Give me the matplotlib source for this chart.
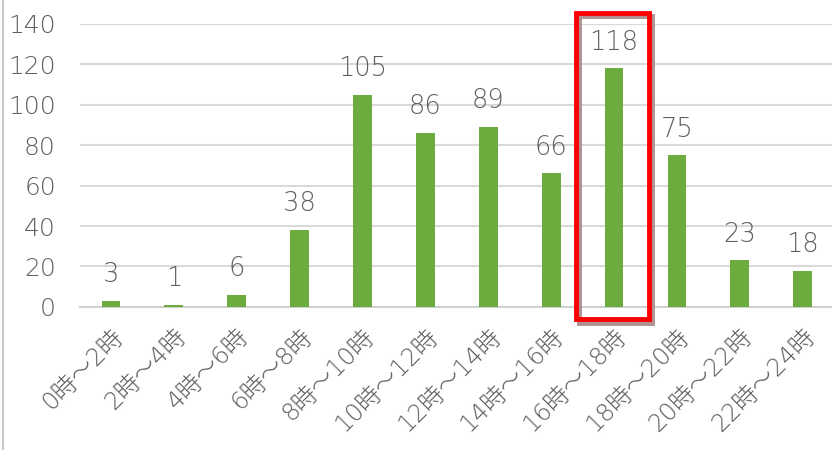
import matplotlib
matplotlib.use('Agg')
import matplotlib.pyplot as plt
import matplotlib.patches as mpatches

# wide digits from DejaVu, kanji falls through to the CJK font
plt.rcParams['font.family'] = ['DejaVu Sans', 'Noto Sans CJK JP']

categories = ['0時～2時', '2時～4時', '4時～6時', '6時～8時', '8時～10時', '10時～12時',
              '12時～14時', '14時～16時', '16時～18時', '18時～20時', '20時～22時', '22時～24時']
counts = [3, 1, 6, 38, 105, 86, 89, 66, 118, 75, 23, 18]
highlight = '16時～18時'

BAR_COLOR = '#6cab3e'
TEXT_COLOR = '#5f5f5f'

fig = plt.figure(figsize=(8.32, 4.5), dpi=100)
ax = fig.add_axes([0.0956, 0.318, 0.907, 0.629])

x = list(range(len(categories)))
ax.bar(x, counts, width=0.30, color=BAR_COLOR, zorder=3)

for xi, v in zip(x, counts):
    ax.annotate(str(v), (xi, v), xytext=(0, 13.5), textcoords='offset points',
                ha='center', va='baseline', fontsize=18.5, color=TEXT_COLOR,
                fontweight='light')

ax.set_xlim(-0.5, len(categories) - 0.5)
ax.set_ylim(0, 140)
ax.set_yticks(range(0, 141, 20))
ax.set_xticks(x)
ax.set_xticklabels(categories, rotation=45, ha='right', va='top', rotation_mode='anchor',
                   fontsize=17.5, color=TEXT_COLOR, fontweight='light')
ax.tick_params(axis='y', labelsize=18, labelcolor=TEXT_COLOR, length=0, pad=17)
ax.tick_params(axis='x', length=0, pad=12)
for lbl in ax.get_yticklabels():
    lbl.set_fontweight('light')

ax.grid(axis='y', color='#d9d9d9', linewidth=1.5, zorder=0)
for s in ['top', 'right', 'left']:
    ax.spines[s].set_visible(False)
ax.spines['bottom'].set_color('#d0d0d0')
ax.spines['bottom'].set_linewidth(1.5)

# highlight box around the peak bar
hi = categories.index(highlight)
shadow = mpatches.Rectangle((hi - 0.56, -7.8), 1.16, 151.5, fill=False,
                            edgecolor='#b09090', linewidth=3.5, clip_on=False, zorder=4)
ax.add_patch(shadow)
box = mpatches.Rectangle((hi - 0.6, -6.2), 1.16, 151.5, fill=False,
                         edgecolor='#ff0000', linewidth=3.5, clip_on=False, zorder=5)
ax.add_patch(box)

# thin frame line at left edge
fig.add_artist(plt.Line2D([0.004, 0.004], [0, 1], color='#c8c8c8', linewidth=1.5))

fig.savefig('out.png', dpi=100)
